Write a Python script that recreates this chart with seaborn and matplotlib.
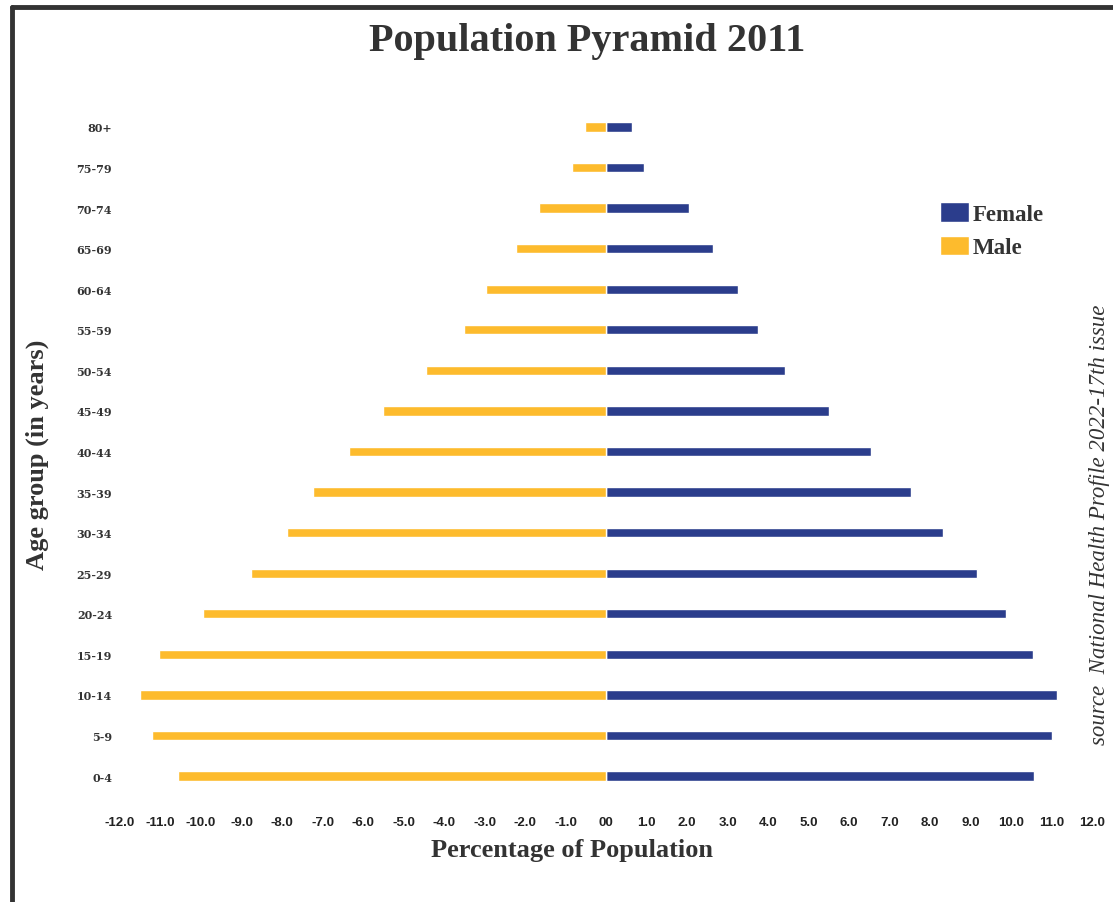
import matplotlib
matplotlib.use("Agg")
import matplotlib.pyplot as plt
import pandas as pd
import seaborn as sns

# age groups from top of the pyramid to the bottom
age_groups = ["80+", "75-79", "70-74", "65-69", "60-64", "55-59", "50-54", "45-49",
              "40-44", "35-39", "30-34", "25-29", "20-24", "15-19", "10-14", "5-9", "0-4"]
female_pct = [0.65, 0.95, 2.04, 2.63, 3.27, 3.75, 4.41, 5.5,
              6.55, 7.54, 8.33, 9.15, 9.88, 10.54, 11.13, 11.0, 10.57]
male_pct = [-0.51, -0.83, -1.65, -2.22, -2.96, -3.5, -4.45, -5.51,
            -6.34, -7.24, -7.88, -8.77, -9.96, -11.04, -11.5, -11.2, -10.58]
x_ticks = list(range(-12, 13))
x_tick_labels = ["-12.0", "-11.0", "-10.0", "-9.0", "-8.0", "-7.0", "-6.0", "-5.0", "-4.0",
                 "-3.0", "-2.0", "-1.0", "00", "1.0", "2.0", "3.0", "4.0", "5.0", "6.0",
                 "7.0", "8.0", "9.0", "10.0", "11.0", "12.0"]

FEMALE = "#2b3d8c"
MALE = "#fdbb2d"

df = pd.concat([
    pd.DataFrame({"age": age_groups, "pct": female_pct, "sex": "Female"}),
    pd.DataFrame({"age": age_groups, "pct": male_pct, "sex": "Male"}),
])

sns.set_style("white")
W, H = 1113, 903
fig = plt.figure(figsize=(W / 100, H / 100), dpi=100)
ax = fig.add_axes([85 / W, 1 - 797.3 / H, 1007 / W, 689.6 / H])

sns.barplot(data=df, x="pct", y="age", hue="sex", order=age_groups,
            hue_order=["Female", "Male"], palette={"Female": FEMALE, "Male": MALE},
            dodge=False, width=0.23, orient="h", ax=ax, saturation=1)

ax.set_xlim(-(606 - 85) / 40.5, 12)
ax.set_ylim(len(age_groups) - 0.5, -0.5)
ax.set_xticks(x_ticks)
ax.set_xticklabels(x_tick_labels, fontsize=9.5, fontweight="bold",
                   family=["Liberation Sans Narrow", "Liberation Sans"], color="#222222")
ax.set_yticks(range(len(age_groups)))
ax.set_yticklabels(age_groups, fontsize=8, fontweight="bold", family="DejaVu Serif",
                   color="#333333")
ax.tick_params(axis="x", length=0, pad=14)
ax.tick_params(axis="y", length=0, pad=-19.5)
for s in ax.spines.values():
    s.set_visible(False)

ax.set_xlabel("Percentage of Population", fontsize=19, fontweight="bold",
              family="Liberation Serif", color="#333333")
ax.xaxis.set_label_coords((572 - 85) / 1007, -0.06)
ax.set_ylabel("Age group (in years)", fontsize=19, fontweight="bold",
              family="Liberation Serif", color="#333333")
ax.yaxis.set_label_coords(-0.036, 0.496)

handles, labels = ax.get_legend_handles_labels()
ax.legend(handles, labels, loc="upper left", bbox_to_anchor=(929 / W, 1 - 192 / H),
          bbox_transform=fig.transFigure, frameon=False, borderpad=0,
          handlelength=1.25, handleheight=0.95, handletextpad=0.15, labelspacing=0.45,
          prop={"family": "Liberation Serif", "weight": "bold", "size": 16.5})
for t in ax.get_legend().get_texts():
    t.set_color("#333333")

fig.text(587 / W, 1 - 42 / H, "Population Pyramid 2011", ha="center", va="center",
         fontsize=29, fontweight="bold", family="Liberation Serif", color="#333333")
fig.text(1100 / W, 1 - 525 / H, "source  National Health Profile 2022-17th issue",
         rotation=90, ha="center", va="center", fontsize=16.5, style="italic",
         family="Liberation Serif", color="#333333")

# page frame
fig.add_artist(plt.Line2D([12 / W, 12 / W], [0, 1 - 8 / H], transform=fig.transFigure,
                          color="#333333", lw=3.5))
fig.add_artist(plt.Line2D([12 / W, 1], [1 - 8 / H, 1 - 8 / H], transform=fig.transFigure,
                          color="#333333", lw=3.5))

fig.savefig("out.png", dpi=100)
